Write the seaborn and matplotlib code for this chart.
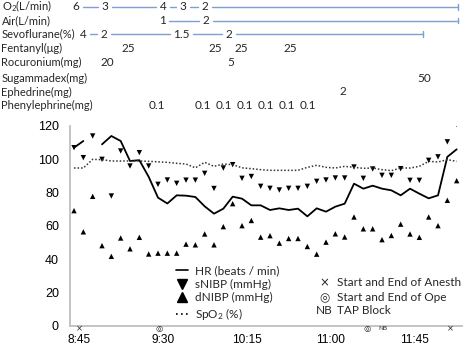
import numpy as np
import pandas as pd
import matplotlib
matplotlib.use("Agg")
import matplotlib.pyplot as plt
import matplotlib.transforms as mtransforms
from matplotlib.lines import Line2D
import seaborn as sns

# ---------------- data ----------------
time_labels = ["8:45", "9:30", "10:15", "11:00", "11:45"]
time_tick_pos = [0.5, 9.5, 18.5, 27.5, 36.5]

hr = [107, 111, np.nan, 109, 114, 111, 99, 99.5, 89.5, 77, 73.5, 78.4, 78.2, 77.4,
      71.8, 67.4, 70.4, 77.6, 76.4, 72.4, 72.4, 69.6, 70.6, 69.6, 70.4, 65.8, 70.6,
      68.6, 71.6, 73.4, 85.4, 82.4, 84.2, 82.4, 81.4, 78.4, 82.4, 79.4, 76.6, 78.4,
      101.5, 106]
snibp = [107, 101, 114, 100, 78, 105, 96, 104, 96, 85, 87.6, 85.6, 87.5, 87.5, 91.6,
         82.5, 94.8, 96.8, 88.6, 89.7, 83.8, 82.6, 81.6, 82.6, 82.6, 83.8, 86.8, 87.6,
         88.8, 88.8, 95.4, 88.6, 94.2, 90.4, 90.4, 94.4, 87.4, 87.4, 99.4, 101.5, 110.5, 121]
dnibp = [69.2, 56.5, 77.8, 48.2, 41.8, 52.8, 46.3, 53.2, 43.2, 43.7, 43.7, 43.7, 49.1,
         48.7, 55.2, 48.7, 59.6, 73.4, 60.2, 63.3, 53.3, 54.2, 49.7, 52.5, 52.5, 47.7,
         43.1, 50.3, 55.3, 53.4, 65.4, 58.3, 58.3, 51.8, 54.3, 61.1, 55.2, 53.2, 65.4,
         60.2, 75.4, 87.2]
spo2 = [94.8, 94.8, 100, 99.8, 99, 99, 99, 99, 98.8, 98.5, 98.2, 97.6, 97.2, 94.9, 98.2,
        95.8, 97.2, 96.8, 94.9, 94.4, 93.8, 93.4, 93.4, 93.4, 93.4, 95.2, 96.4, 95.2,
        94.8, 95.8, 95.2, 94.6, 94.8, 93.8, 93.2, 94.8, 94.8, 95.8, 98.8, 98.4, 99.8, 98.8]

anesth_pos = [0.54, 40.3]
ope_pos = [9.1, 31.4]
nb_pos = [33.1]

row_names = ["O$\\mathregular{_2}$(L/min)", "Air(L/min)", "Sevoflurane(%)", "Fentanyl(\u03bcg)",
             "Rocuronium(mg)", "Sugammadex(mg)", "Ephedrine(mg)", "Phenylephrine(mg)"]
o2_pos = [0.21, 3.32, 9.54, 11.68, 14.04]
o2_vals = ["6", "3", "4", "3", "2"]
o2_end = 41.14
air_pos = [9.43, 14.14]
air_vals = ["1", "2"]
air_end = 41.14
sevo_pos = [0.96, 3.21, 11.52, 16.6]
sevo_vals = ["4", "2", "1.5", "2"]
sevo_end = 37.39
fent_pos = [5.79, 15.1, 17.9, 23.14]
fent_vals = ["25", "25", "25", "25"]
roc_pos = [3.54, 16.82]
roc_vals = ["20", "5"]
sug_pos = [37.5]
sug_vals = ["50"]
eph_pos = [28.82]
eph_vals = ["2"]
phe_pos = [8.89, 13.77, 16.07, 18.32, 20.57, 22.82, 25.02]
phe_vals = ["0.1"] * 7

# ---------------- figure ----------------
sns.set_style("white")
plt.rcParams["font.family"] = ["Lato", "DejaVu Sans"]
plt.rcParams["mathtext.default"] = "regular"

W, H = 472, 345
fig = plt.figure(figsize=(W / 100, H / 100), dpi=100)
ax_l, ax_r, ax_t, ax_b = 70, 462, 126, 326
ax = fig.add_axes([ax_l / W, 1 - ax_b / H, (ax_r - ax_l) / W, (ax_b - ax_t) / H])

idx = np.arange(len(hr))
hr_arr = np.array(hr, dtype=float)
seg = np.cumsum(np.isnan(hr_arr))
df = pd.DataFrame({"i": idx, "hr": hr_arr, "seg": seg,
                   "s": snibp, "d": dnibp, "spo2": spo2})
dfh = df.dropna(subset=["hr"])

sns.lineplot(data=dfh, x="i", y="hr", units="seg", estimator=None, color="black",
             lw=1.3, ax=ax)
sns.lineplot(data=df, x="i", y="spo2", color="#333333", lw=1.1, ls=(0, (1, 1.3)), ax=ax)
sns.scatterplot(data=df, x="i", y="s", marker="v", color="black", s=15,
                edgecolor="none", ax=ax)
sns.scatterplot(data=df, x="i", y="d", marker="^", color="black", s=15,
                edgecolor="none", ax=ax)

ax.set_xlim(-0.43, 41.57)
ax.set_ylim(0, 120)
ax.set_yticks(range(0, 121, 20))
ax.set_xticks(time_tick_pos)
ax.set_xticklabels(time_labels)
ax.set_xlabel("")
ax.set_ylabel("")
for lab in ax.get_yticklabels():
    lab.set_fontfamily("Liberation Sans")
    lab.set_fontsize(9)
for lab in ax.get_xticklabels():
    lab.set_fontfamily("Liberation Sans")
    lab.set_fontsize(8.6)
ax.tick_params(axis="both", length=0, colors="black")
ax.tick_params(axis="y", pad=8)
ax.tick_params(axis="x", pad=5.5)
for sp in ["top", "right"]:
    ax.spines[sp].set_visible(False)
for sp in ["left", "bottom"]:
    ax.spines[sp].set_color("#BFBFBF")
    ax.spines[sp].set_linewidth(1.3)

# markers below the axis
tb = mtransforms.blended_transform_factory(ax.transData, ax.transAxes)
for p in anesth_pos:
    ax.text(p, -0.012, "\u00d7", transform=tb, ha="center", va="center", fontsize=6,
            family="DejaVu Sans", clip_on=False)
for p in ope_pos:
    ax.text(p, -0.012, "\u25ce", transform=tb, ha="center", va="center", fontsize=6,
            family="DejaVu Sans", clip_on=False)
for p in nb_pos:
    ax.text(p, -0.012, "NB", transform=tb, ha="center", va="center", fontsize=4.5,
            clip_on=False)

# legend (left column)
handles = [
    Line2D([], [], color="black", lw=1.2),
    Line2D([], [], color="black", marker="v", ls="none", markersize=7),
    Line2D([], [], color="black", marker="^", ls="none", markersize=7),
    Line2D([], [], color="black", lw=1.2, ls=(0, (1, 2))),
]
labels = ["HR (beats / min)", "sNIBP (mmHg)", "dNIBP (mmHg)", "SpO$_2$ (%)"]
ax.legend(handles, labels, loc="upper left",
          bbox_to_anchor=((176 - ax_l) / (ax_r - ax_l), (ax_b - 265) / (ax_b - ax_t)),
          frameon=False, fontsize=8.5, handlelength=1.0, handletextpad=0.6,
          labelspacing=0.22, borderpad=0, borderaxespad=0)

# legend (right column) as text
ta = ax.transAxes
def axfx(px):
    return (px - ax_l) / (ax_r - ax_l)
def axfy(py):
    return (ax_b - py) / (ax_b - ax_t)
right_items = [("\u00d7", "Start and End of Anesth", 283, "DejaVu Sans", 8.5),
               ("\u25ce", "Start and End of Ope", 297.5, "DejaVu Sans", 8.5),
               ("NB", "TAP Block", 311, "Lato", 8.5)]
for sym, txt, py, fam, fs in right_items:
    ax.text(axfx(324), axfy(py), sym, transform=ta, ha="center", va="center",
            fontsize=fs, family=fam)
    ax.text(axfx(337), axfy(py), txt, transform=ta, ha="left", va="center", fontsize=8.5)

# ---------------- drug table ----------------
tf = mtransforms.blended_transform_factory(ax.transData, fig.transFigure)
row_y = [6.5, 20.5, 34, 48, 62.5, 78, 92, 105.5]
px_per_idx = 9.333
line_col = "#7F9FD3"

def fy(py):
    return 1 - py / H

for name, py in zip(row_names, row_y):
    fig.text(1.5 / W, fy(py), name, ha="left", va="center", fontsize=8)

def half_w(lbl):
    return (2.9 * len(lbl) + (0 if "." not in lbl else -1)) / px_per_idx

rows = [(o2_pos, o2_vals, o2_end, 0), (air_pos, air_vals, air_end, 1),
        (sevo_pos, sevo_vals, sevo_end, 2), (fent_pos, fent_vals, None, 3),
        (roc_pos, roc_vals, None, 4), (sug_pos, sug_vals, None, 5),
        (eph_pos, eph_vals, None, 6), (phe_pos, phe_vals, None, 7)]
gap = 4 / px_per_idx
for pos, vals, end, r in rows:
    yy = fy(row_y[r])
    for p, v in zip(pos, vals):
        ax.text(p, yy, v, transform=tf, ha="center", va="center", fontsize=8.5,
                clip_on=False)
    if end is not None:
        stops = list(pos) + [end]
        svals = list(vals) + [""]
        for k in range(len(pos)):
            x0 = stops[k] + half_w(svals[k]) + gap
            x1 = stops[k + 1] - (half_w(svals[k + 1]) + gap if svals[k + 1] else 0)
            ax.plot([x0, x1], [yy, yy], transform=tf, color=line_col, lw=1.0,
                    clip_on=False)
        ax.plot([end, end], [yy - 3 / H, yy + 3 / H], transform=tf, color=line_col,
                lw=1.0, clip_on=False)

fig.savefig("out.png", dpi=100)
